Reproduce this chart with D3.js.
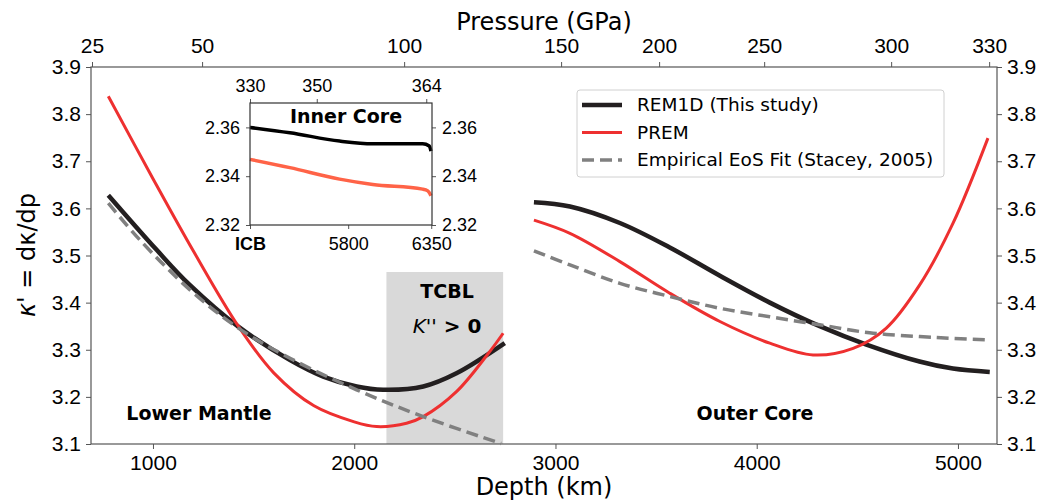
<!DOCTYPE html>
<html>
<head>
<meta charset="utf-8">
<script src="https://cdn.jsdelivr.net/npm/d3@7"></script>
<style>
  body { margin: 0; background: #fff; }
  svg { font-family: "DejaVu Sans", sans-serif; }
</style>
</head>
<body>
<svg id="chart" width="1045" height="504"></svg>
<script>
// Lower mantle curves (depth in km, K')
const lmBlackDepth = [778, 1018, 1184, 1424, 1681, 1846, 2012, 2144, 2343, 2508, 2748];
const lmBlackVal   = [3.628, 3.512, 3.437, 3.349, 3.278, 3.243, 3.222, 3.215, 3.222, 3.250, 3.314];
const lmRedDepth = [778, 1000, 1200, 1424, 1600, 1800, 2000, 2111, 2260, 2343, 2508, 2666, 2740];
const lmRedVal   = [3.838, 3.663, 3.510, 3.350, 3.251, 3.181, 3.147, 3.137, 3.144, 3.158, 3.211, 3.292, 3.335];
const lmGrayDepth = [778, 935, 1184, 1424, 1681, 2012, 2343, 2730];
const lmGrayVal   = [3.611, 3.533, 3.427, 3.346, 3.282, 3.215, 3.158, 3.101];

// Outer core curves
const ocBlackDepth = [2893, 3072, 3320, 3568, 3817, 4065, 4313, 4545, 4809, 4975, 5158];
const ocBlackVal   = [3.613, 3.604, 3.569, 3.517, 3.457, 3.400, 3.350, 3.311, 3.275, 3.260, 3.253];
const ocRedDepth = [2893, 3072, 3320, 3568, 3817, 4065, 4280, 4479, 4644, 4809, 4975, 5149];
const ocRedVal   = [3.575, 3.547, 3.487, 3.420, 3.360, 3.314, 3.289, 3.303, 3.346, 3.437, 3.568, 3.749];
const ocGrayDepth = [2893, 3072, 3320, 3568, 3817, 4065, 4313, 4561, 4809, 4975, 5149];
const ocGrayVal   = [3.510, 3.480, 3.441, 3.413, 3.388, 3.370, 3.353, 3.336, 3.328, 3.324, 3.321];

// Inner core inset curves
const icBlackDepth = [5150, 5414, 5743, 5963, 6293, 6337, 6348];
const icBlackVal   = [2.360, 2.3578, 2.3544, 2.3533, 2.3533, 2.3524, 2.3503];
const icRedDepth = [5150, 5414, 5743, 5963, 6293, 6327, 6348];
const icRedVal   = [2.3469, 2.3435, 2.3388, 2.3366, 2.3347, 2.334, 2.332];

// Ticks
const depthTicks = [1000, 2000, 3000, 4000, 5000];
const kTicks = [3.1, 3.2, 3.3, 3.4, 3.5, 3.6, 3.7, 3.8, 3.9];
const pressureLabels = [25, 50, 100, 150, 200, 250, 300, 330];
const pressureDepths = [697, 1244, 2248, 3028, 3515, 4037, 4668, 5155];
const insetDepthTicks = [5150, 5800, 6350];
const insetDepthLabels = ["ICB", "5800", "6350"];
const insetPressureLabels = [330, 350, 364];
const insetPressureDepths = [5150, 5592, 6317];
const insetKTicks = [2.32, 2.34, 2.36];
const tcbl = [2160, 2740];

const legendItems = [
    { name: "REM1D (This study)", color: "#231f20", width: 4.5, dash: null },
    { name: "PREM", color: "#ee3030", width: 3, dash: null },
    { name: "Empirical EoS Fit (Stacey, 2005)", color: "#808080", width: 3.5, dash: "12,6" }
];

const svg = d3.select("#chart");
const spine = "#555";

const x = d3.scaleLinear().domain([692, 5194]).range([91, 997]);
const y = d3.scaleLinear().domain([3.1, 3.9]).range([444, 67]);

// TCBL shaded box
svg.append("rect")
    .attr("x", x(tcbl[0]))
    .attr("y", y(3.465))
    .attr("width", x(tcbl[1]) - x(tcbl[0]))
    .attr("height", y(3.1) - y(3.465))
    .attr("fill", "#d9d9d9");

function styleAxis(g, size) {
    g.select(".domain").remove();
    g.selectAll(".tick line").attr("stroke", spine);
    g.selectAll(".tick text").attr("fill", "#000").style("font-size", size + "px");
}

// Axes
svg.append("g").attr("transform", "translate(0,444)")
    .call(d3.axisBottom(x).tickValues(depthTicks).tickSize(5).tickPadding(6).tickFormat(d3.format("d")))
    .call(g => styleAxis(g, 21));
svg.append("g").attr("transform", "translate(0,67)")
    .call(d3.axisTop(x).tickValues(pressureDepths).tickSize(5).tickPadding(9)
        .tickFormat((d, i) => pressureLabels[i]))
    .call(g => styleAxis(g, 21));
svg.append("g").attr("transform", "translate(91,0)")
    .call(d3.axisLeft(y).tickValues(kTicks).tickSize(5).tickPadding(5).tickFormat(d3.format(".1f")))
    .call(g => styleAxis(g, 21));
svg.append("g").attr("transform", "translate(997,0)")
    .call(d3.axisRight(y).tickValues(kTicks).tickSize(5).tickPadding(5).tickFormat(d3.format(".1f")))
    .call(g => styleAxis(g, 21));

svg.append("rect")
    .attr("x", 91).attr("y", 67).attr("width", 906).attr("height", 377)
    .attr("fill", "none").attr("stroke", spine).attr("stroke-width", 1.2);

// Curves
const line = d3.line().x(d => x(d[0])).y(d => y(d[1])).curve(d3.curveCatmullRom.alpha(0.5));
function drawCurve(depths, vals, item) {
    svg.append("path")
        .datum(depths.map((d, i) => [d, vals[i]]))
        .attr("d", line)
        .attr("fill", "none")
        .attr("stroke", item.color)
        .attr("stroke-width", item.width)
        .attr("stroke-dasharray", item.dash);
}
drawCurve(lmBlackDepth, lmBlackVal, legendItems[0]);
drawCurve(ocBlackDepth, ocBlackVal, legendItems[0]);
drawCurve(lmRedDepth, lmRedVal, legendItems[1]);
drawCurve(ocRedDepth, ocRedVal, legendItems[1]);
drawCurve(lmGrayDepth, lmGrayVal, legendItems[2]);
drawCurve(ocGrayDepth, ocGrayVal, legendItems[2]);

// Region labels
svg.append("text").attr("x", 199).attr("y", 420).attr("text-anchor", "middle")
    .style("font-size", "19px").style("font-weight", "bold").text("Lower Mantle");
svg.append("text").attr("x", 755).attr("y", 420).attr("text-anchor", "middle")
    .style("font-size", "19px").style("font-weight", "bold").text("Outer Core");
svg.append("text").attr("x", 447).attr("y", 298).attr("text-anchor", "middle")
    .style("font-size", "19px").style("font-weight", "bold").text("TCBL");
const kpp = svg.append("text").attr("x", 447).attr("y", 333).attr("text-anchor", "middle")
    .style("font-size", "20px");
kpp.append("tspan").style("font-style", "italic").text("K''");
kpp.append("tspan").style("font-weight", "bold").text(" > 0");

// Axis titles
svg.append("text").attr("x", 544).attr("y", 495).attr("text-anchor", "middle")
    .style("font-size", "24px").text("Depth (km)");
svg.append("text").attr("x", 544).attr("y", 30).attr("text-anchor", "middle")
    .style("font-size", "24px").text("Pressure (GPa)");
const ylab = svg.append("text").attr("transform", "translate(35,255) rotate(-90)")
    .attr("text-anchor", "middle").style("font-size", "24px");
ylab.append("tspan").style("font-style", "italic").text("κ'");
ylab.append("tspan").text(" = dκ/dp");

// Legend
const legend = svg.append("g");
legend.append("rect")
    .attr("x", 577).attr("y", 90).attr("width", 367).attr("height", 87)
    .attr("rx", 3).attr("fill", "#fff").attr("stroke", "#d0d0d0");
legendItems.forEach((item, i) => {
    const ly = 105 + i * 27.5;
    legend.append("line")
        .attr("x1", 582).attr("x2", 622).attr("y1", ly).attr("y2", ly)
        .attr("stroke", item.color).attr("stroke-width", item.width)
        .attr("stroke-dasharray", item.dash);
    legend.append("text").attr("x", 637).attr("y", ly).attr("dy", "0.35em")
        .style("font-size", "18.5px").text(item.name);
});

// Inset: inner core
const ix = d3.scaleLinear().domain([5150, 6355]).range([250, 432]);
const iy = d3.scaleLinear().domain([2.32, 2.37]).range([225, 103]);
const inset = svg.append("g");
inset.append("rect").attr("x", 250).attr("y", 103).attr("width", 182).attr("height", 122)
    .attr("fill", "#fff");

inset.append("g").attr("transform", "translate(0,225)")
    .call(d3.axisBottom(ix).tickValues(insetDepthTicks).tickSize(4).tickPadding(8)
        .tickFormat((d, i) => insetDepthLabels[i]))
    .call(g => styleAxis(g, 18))
    .call(g => g.selectAll(".tick text").filter((d, i) => i === 0).style("font-weight", "bold"));
inset.append("g").attr("transform", "translate(0,103)")
    .call(d3.axisTop(ix).tickValues(insetPressureDepths).tickSize(4).tickPadding(7)
        .tickFormat((d, i) => insetPressureLabels[i]))
    .call(g => styleAxis(g, 18));
inset.append("g").attr("transform", "translate(250,0)")
    .call(d3.axisLeft(iy).tickValues(insetKTicks).tickSize(4).tickPadding(6).tickFormat(d3.format(".2f")))
    .call(g => styleAxis(g, 18));
inset.append("g").attr("transform", "translate(432,0)")
    .call(d3.axisRight(iy).tickValues(insetKTicks).tickSize(4).tickPadding(6).tickFormat(d3.format(".2f")))
    .call(g => styleAxis(g, 18));

const iline = d3.line().x(d => ix(d[0])).y(d => iy(d[1])).curve(d3.curveMonotoneX);
inset.append("path").datum(icBlackDepth.map((d, i) => [d, icBlackVal[i]]))
    .attr("d", iline).attr("fill", "none").attr("stroke", "#000").attr("stroke-width", 3.5);
inset.append("path").datum(icRedDepth.map((d, i) => [d, icRedVal[i]]))
    .attr("d", iline).attr("fill", "none").attr("stroke", "#ff6347").attr("stroke-width", 3.5);

inset.append("rect").attr("x", 250).attr("y", 103).attr("width", 182).attr("height", 122)
    .attr("fill", "none").attr("stroke", "#333").attr("stroke-width", 1.2);
inset.append("text").attr("x", 346).attr("y", 123).attr("text-anchor", "middle")
    .style("font-size", "19px").style("font-weight", "bold").text("Inner Core");
</script>
</body>
</html>
